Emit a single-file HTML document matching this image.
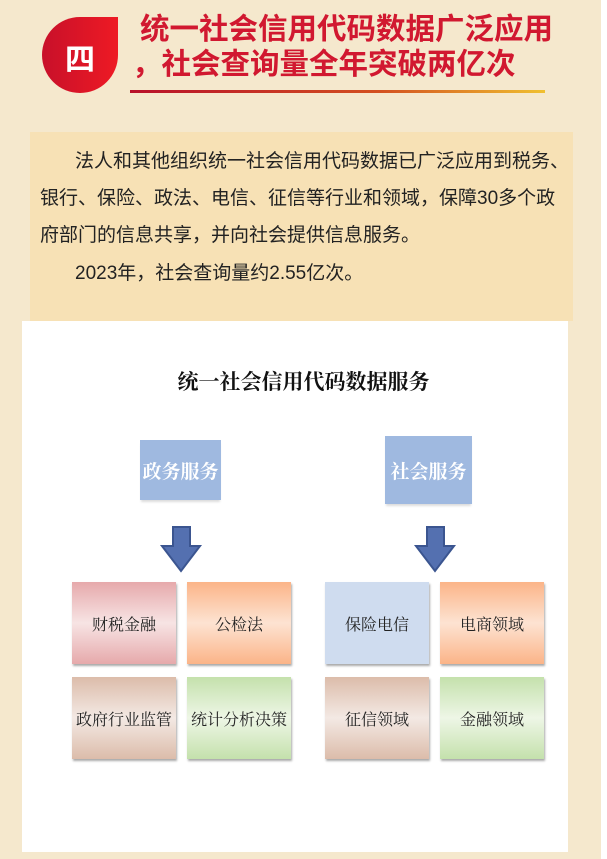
<!DOCTYPE html>
<html><head><meta charset="utf-8"><style>
body{margin:0;width:607px;height:859px;background:#f5e8cd;position:relative;overflow:hidden;font-family:"Liberation Sans","Noto Sans CJK SC",sans-serif}
.a{position:absolute}
.badge{left:42px;top:17px;width:76px;height:76px;border-radius:50% 0 50% 50%;background:linear-gradient(90deg,#c8102a,#ee1a24)}
.badge span{position:absolute;left:0;right:0;top:18px;text-align:center;color:#fff;font-size:30px;font-weight:bold}
.tt{left:140px;color:#d11830;font-size:29.5px;font-weight:bold;letter-spacing:0px;white-space:nowrap;line-height:34px}
.line{left:130px;top:90px;width:415px;height:3px;background:linear-gradient(90deg,#b8102a,#d35020 60%,#f0c030)}
.box{left:30px;top:132px;width:543px;height:189px;background:#f7e1b5}
.p{font-size:19px;color:#222;white-space:nowrap;left:40px;line-height:24px}
.panel{left:22px;top:321px;width:546px;height:531px;background:#fff}
.hd{font-family:"Liberation Serif","Noto Serif CJK SC",serif;font-weight:bold;font-size:21px;color:#111;left:0;width:607px;text-align:center;top:366px}
.bl{background:#9fb9e0;color:#fff;font-weight:bold;font-size:19px;display:flex;align-items:center;justify-content:center;box-shadow:0 3px 2px -1px #ddd;font-family:"Liberation Serif","Noto Serif CJK SC",serif}
.c{width:104px;height:82px;display:flex;align-items:center;justify-content:center;font-size:16px;color:#222;box-shadow:1px 2px 2px #aaa;font-family:"Liberation Serif","Noto Serif CJK SC",serif}
.pink{background:linear-gradient(#e6a9ab,#f7e4e4 50%,#e6a9ab)}
.org{background:linear-gradient(#fbb488,#fde3d2 50%,#fbb488)}
.brn{background:linear-gradient(#dcbcaa,#f3e9e4 50%,#dcbcaa)}
.grn{background:linear-gradient(#c4e1ac,#eef6e6 50%,#c4e1ac)}
.lb{background:#cfdcef}
</style></head><body>
<div class="a" style="right:0;top:0;width:6px;height:859px;background:#fff"></div>
<div class="a badge"><span>四</span></div>
<div class="a tt" style="top:13px">统一社会信用代码数据广泛应用</div>
<div class="a tt" style="top:48px;left:132px">，社会查询量全年突破两亿次</div>
<div class="a line"></div>
<div class="a box"></div>
<div class="a p" style="top:150px;left:75px">法人和其他组织统一社会信用代码数据已广泛应用到税务、</div>
<div class="a p" style="top:187px">银行、保险、政法、电信、征信等行业和领域，保障30多个政</div>
<div class="a p" style="top:224px">府部门的信息共享，并向社会提供信息服务。</div>
<div class="a p" style="top:262px;left:75px">2023年，社会查询量约2.55亿次。</div>
<div class="a panel"></div>
<div class="a hd">统一社会信用代码数据服务</div>
<div class="a bl" style="left:140px;top:440px;width:81px;height:60px">政务服务</div>
<div class="a bl" style="left:385px;top:436px;width:87px;height:68px">社会服务</div>
<svg class="a" style="left:0;top:0" width="607" height="859">
<path d="M173 527h17v19h10l-19 25l-19-25h11z" fill="#5470b0" stroke="#3b5590" stroke-width="2"/>
<path d="M427 527h17v19h10l-19 25l-19-25h11z" fill="#5470b0" stroke="#3b5590" stroke-width="2"/>
</svg>
<div class="a c pink" style="left:72px;top:582px">财税金融</div>
<div class="a c org" style="left:187px;top:582px">公检法</div>
<div class="a c brn" style="left:72px;top:677px">政府行业监管</div>
<div class="a c grn" style="left:187px;top:677px">统计分析决策</div>
<div class="a c lb" style="left:325px;top:582px">保险电信</div>
<div class="a c org" style="left:440px;top:582px">电商领域</div>
<div class="a c brn" style="left:325px;top:677px">征信领域</div>
<div class="a c grn" style="left:440px;top:677px">金融领域</div>
</body></html>
